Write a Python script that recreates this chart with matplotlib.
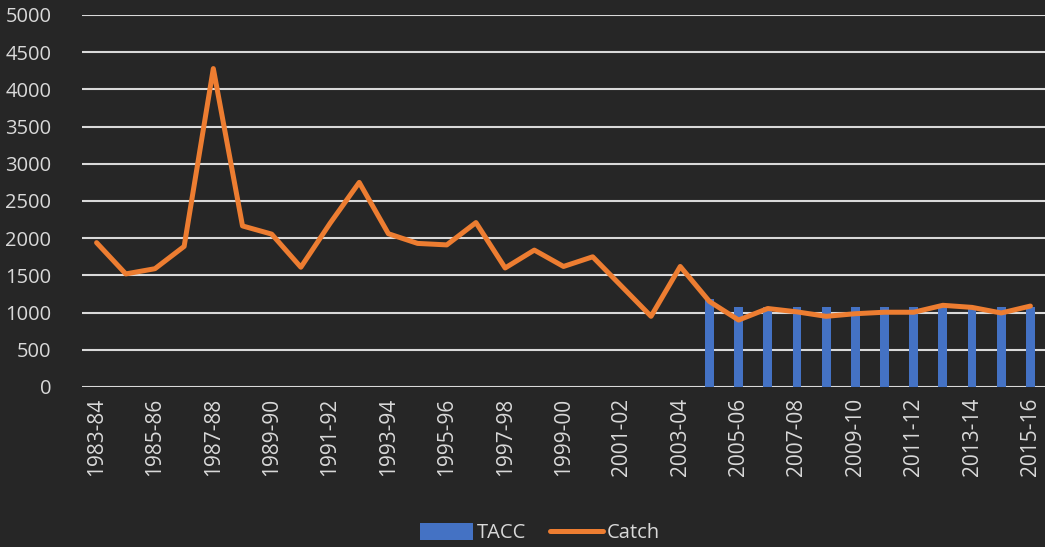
import matplotlib.pyplot as plt
import numpy as np

seasons = ['1983-84', '1984-85', '1985-86', '1986-87', '1987-88', '1988-89',
           '1989-90', '1990-91', '1991-92', '1992-93', '1993-94', '1994-95',
           '1995-96', '1996-97', '1997-98', '1998-99', '1999-00', '2000-01',
           '2001-02', '2002-03', '2003-04', '2004-05', '2005-06', '2006-07',
           '2007-08', '2008-09', '2009-10', '2010-11', '2011-12', '2012-13',
           '2013-14', '2014-15', '2015-16']

catch = [1940, 1520, 1590, 1890, 4280, 2165, 2055, 1610, 2200, 2750,
         2060, 1930, 1910, 2210, 1600, 1840, 1620, 1750, 1350, 950,
         1620, 1150, 900, 1055, 1010, 950, 985, 1005, 1005, 1098,
         1070, 995, 1088]

# TACC only set from 2004-05 onwards
tacc = [np.nan] * 21 + [1180, 1070, 1070, 1070, 1070, 1070, 1070, 1070,
                        1070, 1070, 1070, 1070]

bg = '#262626'
txt = '#d9d9d9'

plt.rcParams['font.family'] = ['Open Sans', 'DejaVu Sans']

fig = plt.figure(figsize=(10.45, 5.47), dpi=100, facecolor=bg)
ax = fig.add_axes([82 / 1045, 160 / 547, 963 / 1045, 372 / 547])
ax.set_facecolor(bg)

x = np.arange(len(seasons))
bars = ax.bar(x, tacc, width=0.3, color='#4472C4', label='TACC', zorder=2)
line, = ax.plot(x, catch, color='#ED7D31', linewidth=3.6, solid_joinstyle='round',
                solid_capstyle='round', label='Catch', zorder=3)

ax.set_ylim(0, 5000)
ax.set_yticks(np.arange(0, 5001, 500))
ax.set_xlim(-0.5, len(seasons) - 0.5)
ax.set_xticks(x[::2])
ax.set_xticklabels(seasons[::2], rotation=90, fontsize=15)

ax.grid(axis='y', color=txt, linewidth=1.5, zorder=1)
ax.set_axisbelow(True)
for s in ax.spines.values():
    s.set_visible(False)
ax.tick_params(axis='both', length=0, colors=txt)
ax.tick_params(axis='y', pad=22, labelsize=14.5)
ax.tick_params(axis='x', pad=8)

leg = fig.legend([bars, line], ['TACC', 'Catch'], loc='center',
                 bbox_to_anchor=(540 / 1045, 14 / 547), ncol=2,
                 frameon=False, fontsize=14.5, handlelength=2.6,
                 handleheight=0.9, handletextpad=0.2, columnspacing=1.2)
for t in leg.get_texts():
    t.set_color(txt)

fig.savefig('out.png', dpi=100, facecolor=bg)
